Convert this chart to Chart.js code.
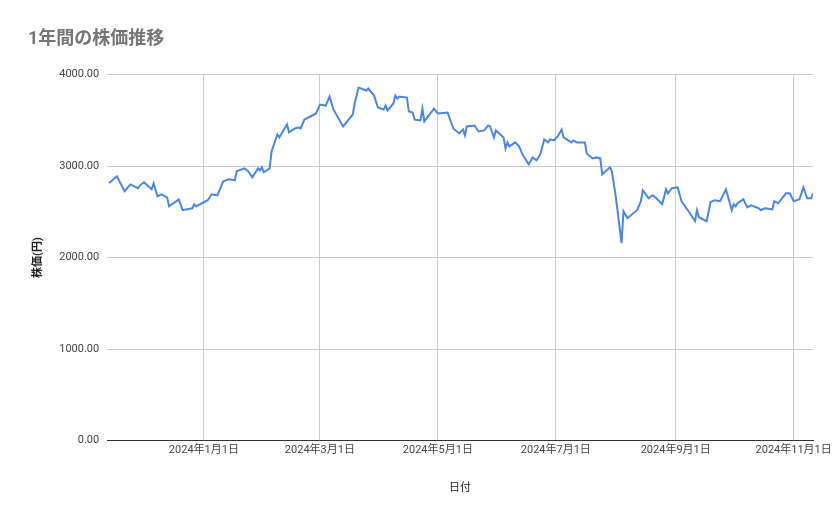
<!DOCTYPE html>
<html><head><meta charset="utf-8">
<script src="https://cdn.jsdelivr.net/npm/chart.js@4/dist/chart.umd.min.js"></script>
<style>html,body{margin:0;padding:0;background:#fff}#w{width:839px;height:519px}</style>
</head><body><div id="w"><canvas id="c"></canvas></div>
<script>
// days offset from 2024-01-01
const days = [-49,-45,-41,-38,-34,-33,-31,-27,-26,-24,-22,-19,-18,-13,-11,-6,-5,-4,-1,2,4,7,10,13,16,17,21,23,25,28,29,30,31,34,35,38,39,43,44,47,49,50,52,57,58,60,63,65,67,72,77,78,80,84,85,88,90,93,94,95,98,99,100,101,105,106,108,109,112,113,114,119,121,126,129,132,134,135,136,140,142,145,147,148,150,151,155,156,157,158,161,163,165,168,170,172,174,176,178,179,181,183,185,186,190,191,193,197,198,201,203,205,206,210,211,213,216,217,219,224,226,227,230,232,234,237,239,240,242,245,247,251,254,255,256,260,262,264,267,270,273,274,275,276,279,281,283,287,288,290,294,295,297,301,303,305,308,310,312,314,315];
const prices = [2815,2888,2725,2800,2758,2790,2823,2747,2812,2670,2692,2659,2561,2637,2518,2539,2583,2561,2594,2627,2692,2681,2834,2856,2845,2943,2975,2943,2877,2975,2954,2987,2932,2975,3161,3346,3313,3455,3368,3411,3422,3411,3509,3564,3575,3673,3662,3760,3619,3433,3564,3684,3858,3826,3847,3771,3640,3619,3662,3608,3684,3771,3738,3760,3749,3597,3586,3509,3499,3629,3488,3629,3575,3586,3411,3357,3400,3335,3433,3444,3379,3390,3444,3433,3313,3390,3313,3193,3259,3215,3259,3215,3117,3019,3095,3063,3128,3291,3259,3291,3281,3324,3400,3313,3259,3281,3259,3259,3139,3084,3095,3084,2910,2987,2943,2670,2158,2507,2430,2518,2616,2736,2648,2681,2648,2583,2747,2703,2758,2768,2616,2496,2398,2518,2441,2398,2605,2627,2616,2747,2518,2583,2561,2594,2637,2550,2572,2539,2518,2539,2528,2616,2594,2703,2703,2616,2637,2768,2648,2648,2703,2710];
const tickDays = [0,60,121,182,244,305];
const tickLabels = ["2024年1月1日","2024年3月1日","2024年5月1日","2024年7月1日","2024年9月1日","2024年11月1日"];
const yTicks = [0,1000,2000,3000,4000];
const F = "Roboto, 'Noto Sans CJK JP', sans-serif";
new Chart(document.getElementById('c'), {
  type: 'line',
  data: { datasets: [{ data: days.map((d,i)=>({x:d,y:prices[i]})), borderColor:'#4a86e8', borderWidth:2, pointRadius:0, tension:0 }] },
  options: {
    responsive:true, maintainAspectRatio:false, animation:false,
    layout:{padding:{left:28,right:26,top:11,bottom:20}},
    plugins:{ legend:{display:false}, tooltip:{enabled:false},
      title:{display:true,text:'1年間の株価推移',align:'start',color:'#757575',font:{family:F,size:18,weight:'bold'},padding:{top:18,bottom:24}} },
    scales:{
      x:{ type:'linear', min:-50, max:315,
        afterBuildTicks:s=>{s.ticks=tickDays.map(v=>({value:v}));},
        ticks:{callback:v=>tickLabels[tickDays.indexOf(v)],color:'#444',font:{family:F,size:11},maxRotation:0,autoSkip:false},
        grid:{color:'#cccccc',drawTicks:false}, border:{color:'#333',width:1},
        title:{display:true,text:'日付',color:'#222',font:{family:F,size:11},padding:{top:22}} },
      y:{ min:0,max:4000,
        afterBuildTicks:s=>{s.ticks=yTicks.map(v=>({value:v}));},
        ticks:{callback:v=>v.toFixed(2),color:'#444',font:{family:F,size:11},padding:8},
        grid:{color:'#cccccc',drawTicks:false}, border:{display:false},
        title:{display:true,text:'株価(円)',color:'#222',font:{family:F,size:11,weight:'bold'},padding:{bottom:6}} }
    }
  }
});
</script></body></html>
